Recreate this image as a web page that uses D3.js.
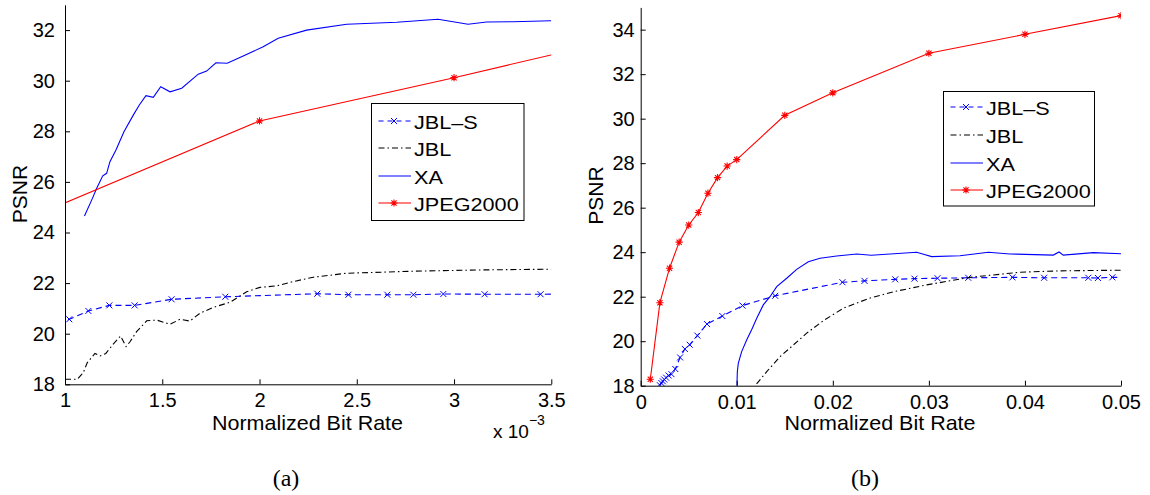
<!DOCTYPE html>
<html>
<head>
<meta charset="utf-8">
<script src="https://cdn.jsdelivr.net/npm/d3@7"></script>
<style>
  body { margin: 0; background: #fff; }
  svg { display: block; }
  text { font-family: "Liberation Sans", Arial, Helvetica, sans-serif; fill: #000; }
</style>
</head>
<body>
<svg id="fig" width="1150" height="495"></svg>
<script>
// ---- shared labels ----
const seriesNames = ["JBL–S", "JBL", "XA", "JPEG2000"];

// ---- panel (a): rate in units of 1e-3 ----
const aXTicks = [1, 1.5, 2, 2.5, 3, 3.5];
const aYTicks = [18, 20, 22, 24, 26, 28, 30, 32];

const aJblsRate = [0.97, 1.022, 1.12, 1.228, 1.358, 1.548, 1.824, 2.297, 2.457, 2.657, 2.791, 2.945, 3.157, 3.445, 3.6];
const aJblsPsnr = [20.37, 20.57, 20.90, 21.12, 21.12, 21.36, 21.46, 21.58, 21.54, 21.54, 21.54, 21.57, 21.56, 21.56, 21.57];

const aJblRate = [1.0, 1.063, 1.094, 1.114, 1.154, 1.18, 1.21, 1.248, 1.286, 1.314, 1.334, 1.368, 1.42, 1.471, 1.54, 1.591, 1.642, 1.694, 1.762, 1.848, 1.934, 2.002, 2.088, 2.173, 2.276, 2.448, 2.79, 3.133, 3.5];
const aJblPsnr = [18.2, 18.2, 18.46, 18.85, 19.22, 19.12, 19.22, 19.59, 19.91, 19.49, 19.68, 20.08, 20.51, 20.54, 20.37, 20.57, 20.50, 20.81, 21.04, 21.24, 21.66, 21.83, 21.89, 22.06, 22.23, 22.39, 22.47, 22.52, 22.55];

const aXaRate = [1.10, 1.137, 1.163, 1.194, 1.214, 1.231, 1.262, 1.303, 1.351, 1.382, 1.416, 1.454, 1.492, 1.54, 1.60, 1.685, 1.728, 1.776, 1.834, 1.916, 2.019, 2.096, 2.242, 2.448, 2.705, 2.918, 3.072, 3.167, 3.304, 3.50];
const aXaPsnr = [24.65, 25.28, 25.75, 26.24, 26.34, 26.80, 27.26, 27.98, 28.64, 29.04, 29.41, 29.34, 29.76, 29.56, 29.70, 30.26, 30.38, 30.71, 30.69, 30.98, 31.34, 31.68, 32.00, 32.23, 32.31, 32.43, 32.23, 32.32, 32.33, 32.37];

const aJpegRate = [0.5, 2, 3, 4];
const aJpegPsnr = [23.55, 28.41, 30.12, 31.92];

// ---- panel (b) ----
const bXTicks = [0, 0.01, 0.02, 0.03, 0.04, 0.05];
const bYTicks = [18, 20, 22, 24, 26, 28, 30, 32, 34];

const bJblsRate = [0.00200, 0.00215, 0.00230, 0.00245, 0.00265, 0.00290, 0.0032, 0.0036, 0.0041, 0.0046, 0.0051, 0.0059, 0.0069, 0.0085, 0.0106, 0.0140, 0.0210, 0.0233, 0.0265, 0.0285, 0.0309, 0.0341, 0.0387, 0.0420, 0.0466, 0.0476, 0.0491, 0.0510];
const bJblsPsnr = [18.02, 18.12, 18.20, 18.28, 18.36, 18.46, 18.52, 18.75, 19.27, 19.65, 19.84, 20.25, 20.77, 21.13, 21.60, 22.04, 22.65, 22.71, 22.78, 22.81, 22.83, 22.85, 22.87, 22.85, 22.85, 22.84, 22.87, 22.87];

const bJblRate = [0.0112, 0.01197, 0.01312, 0.0145, 0.01589, 0.01728, 0.01901, 0.02109, 0.0238, 0.0263, 0.02977, 0.03428, 0.03949, 0.04365, 0.05];
const bJblPsnr = [17.6, 18.03, 18.63, 19.3, 19.83, 20.36, 20.92, 21.48, 21.93, 22.22, 22.53, 22.87, 23.10, 23.16, 23.19];

const bXaRate = [0.00999, 0.01006, 0.01016, 0.01051, 0.01103, 0.01156, 0.01208, 0.01276, 0.01346, 0.01416, 0.0152, 0.01624, 0.01745, 0.01867, 0.0204, 0.0225, 0.0240, 0.02873, 0.03029, 0.03324, 0.03618, 0.03844, 0.04295, 0.04355, 0.04399, 0.04712, 0.05];
const bXaPsnr = [17.6, 18.63, 19.0, 19.53, 20.05, 20.53, 21.03, 21.63, 22.0, 22.45, 22.83, 23.23, 23.57, 23.73, 23.83, 23.92, 23.86, 24.0, 23.80, 23.84, 24.0, 23.92, 23.87, 24.01, 23.87, 23.98, 23.93];

const bJpegRate = [0.001, 0.002, 0.003, 0.004, 0.005, 0.006, 0.007, 0.008, 0.009, 0.010, 0.015, 0.02, 0.03, 0.04, 0.05];
const bJpegPsnr = [18.29, 21.73, 23.28, 24.45, 25.22, 25.78, 26.65, 27.35, 27.87, 28.16, 30.15, 31.16, 32.94, 33.79, 34.63];

// ---- series styling ----
const styles = {
  "JBL–S":   { color: "#0000ff", dash: "6,4",       legendDash: "5,4", marker: "x" },
  "JBL":     { color: "#000000", dash: "6,3,1.5,3", legendDash: "6,3,1.5,3", marker: null },
  "XA":      { color: "#0000ff", dash: null,        legendDash: null, marker: null },
  "JPEG2000":{ color: "#ff0000", dash: null,        legendDash: null, marker: "star" }
};

const svg = d3.select("#fig");

function drawMarker(g, type, x, y, color) {
  if (type === "x") {
    const r = 3;
    g.append("path")
      .attr("d", `M${x - r},${y - r}L${x + r},${y + r}M${x - r},${y + r}L${x + r},${y - r}`)
      .attr("stroke", color).attr("stroke-width", 1).attr("fill", "none");
  } else if (type === "star") {
    const r = 3.6, d = 2.6;
    g.append("path")
      .attr("d", `M${x - r},${y}L${x + r},${y}M${x},${y - r}L${x},${y + r}` +
                 `M${x - d},${y - d}L${x + d},${y + d}M${x - d},${y + d}L${x + d},${y - d}`)
      .attr("stroke", color).attr("stroke-width", 1.1).attr("fill", "none");
  }
}

function panel(cfg) {
  const x = d3.scaleLinear().domain(cfg.xDomain).range([cfg.x0, cfg.x1]);
  const y = d3.scaleLinear().domain(cfg.yDomain).range([cfg.yBot, cfg.yTop]);

  const clipId = "clip-" + cfg.id;
  svg.append("clipPath").attr("id", clipId)
    .append("rect")
    .attr("x", cfg.x0).attr("y", cfg.yTop)
    .attr("width", cfg.x1 - cfg.x0).attr("height", cfg.yBot - cfg.yTop);

  const plot = svg.append("g").attr("clip-path", `url(#${clipId})`);
  const line = d3.line().x(d => x(d[0])).y(d => y(d[1]));

  cfg.series.forEach(s => {
    const st = styles[s.name];
    const pts = s.rate.map((r, i) => [r, s.psnr[i]]);
    plot.append("path")
      .datum(pts)
      .attr("d", line)
      .attr("fill", "none")
      .attr("stroke", st.color)
      .attr("stroke-width", 1.1)
      .attr("stroke-dasharray", st.dash);
    if (st.marker) {
      const mg = plot.append("g");
      pts.forEach(p => drawMarker(mg, st.marker, x(p[0]), y(p[1]), st.color));
    }
  });

  // axes: ticks point inward, no box
  const ax = svg.append("g").attr("transform", `translate(${cfg.x0},0)`)
    .call(d3.axisLeft(y).tickValues(cfg.yTicks).tickSizeInner(-5).tickSizeOuter(0).tickPadding(cfg.yPad));
  ax.selectAll("text").attr("font-size", 20);
  ax.select(".domain").attr("stroke", "#000");

  const bx = svg.append("g").attr("transform", `translate(0,${cfg.yBot})`)
    .call(d3.axisBottom(x).tickValues(cfg.xTicks).tickSizeInner(-5).tickSizeOuter(0)
      .tickPadding(cfg.xPad).tickFormat(d3.format("")));
  bx.selectAll("text").attr("font-size", 20);
  bx.select(".domain").attr("stroke", "#000");
  [ax, bx].forEach(g => g.attr("font-family", null).attr("font-size", null));

  // axis titles
  svg.append("text")
    .attr("transform", `translate(${cfg.ylabX},${cfg.ylabY}) rotate(-90)`)
    .attr("text-anchor", "middle").attr("font-size", 21)
    .text("PSNR");
  svg.append("text")
    .attr("transform", `translate(${cfg.xlabX},${cfg.xlabY}) scale(1.075,1)`)
    .attr("text-anchor", "middle").attr("font-size", 20)
    .text("Normalized Bit Rate");

  // legend
  const L = cfg.legend;
  const lg = svg.append("g");
  lg.append("rect")
    .attr("x", L.x).attr("y", L.y).attr("width", L.w).attr("height", L.h)
    .attr("fill", "#fff").attr("stroke", "#000").attr("stroke-width", 1);
  seriesNames.forEach((name, i) => {
    const st = styles[name];
    const cy = Math.round(L.y + L.first + i * L.step);
    lg.append("line")
      .attr("x1", L.x + 7).attr("x2", L.x + 39.5)
      .attr("y1", cy).attr("y2", cy)
      .attr("stroke", st.color).attr("stroke-width", 1.1)
      .attr("stroke-dasharray", st.legendDash);
    if (st.marker) drawMarker(lg, st.marker, L.x + 22.5, cy, st.color);
    lg.append("text")
      .attr("transform", `translate(${L.x + 42.5},${cy + 7.5}) scale(1.14,1)`)
      .attr("font-size", 19)
      .text(name);
  });

  // sub-figure caption
  svg.append("text")
    .attr("x", cfg.capX).attr("y", 486)
    .attr("text-anchor", "middle")
    .style("font-family", '"Liberation Serif", "Times New Roman", serif')
    .attr("font-size", 24)
    .text(cfg.caption);

  return { x, y };
}

panel({
  id: "a",
  x0: 65, x1: 551.3, yTop: 4.8, yBot: 384.3,
  xDomain: [1, 3.5], yDomain: [18, 33],
  xTicks: aXTicks, yTicks: aYTicks,
  yPad: 10, xPad: 8.5,
  ylabX: 27, ylabY: 194,
  xlabX: 307.5, xlabY: 429.5,
  legend: { x: 371.5, y: 103.5, w: 152.5, h: 117, first: 17, step: 27.6 },
  capX: 286, caption: "(a)",
  series: [
    { name: "JBL–S", rate: aJblsRate, psnr: aJblsPsnr },
    { name: "JBL", rate: aJblRate, psnr: aJblPsnr },
    { name: "XA", rate: aXaRate, psnr: aXaPsnr },
    { name: "JPEG2000", rate: aJpegRate, psnr: aJpegPsnr }
  ]
});

// exponent note for panel (a)
const expo = svg.append("text").attr("x", 493).attr("y", 438).attr("font-size", 19);
expo.append("tspan").text("x 10");
expo.append("tspan").attr("dy", -13).attr("font-size", 14).text("−3");

panel({
  id: "b",
  x0: 640.7, x1: 1121, yTop: 7.4, yBot: 385.7,
  xDomain: [0, 0.05], yDomain: [18, 35],
  xTicks: bXTicks, yTicks: bYTicks,
  yPad: 6, xPad: 9,
  ylabX: 603, ylabY: 195.5,
  xlabX: 880, xlabY: 429.5,
  legend: { x: 943.5, y: 91.5, w: 151, h: 114.5, first: 15.5, step: 27.8 },
  capX: 865, caption: "(b)",
  series: [
    { name: "JBL–S", rate: bJblsRate, psnr: bJblsPsnr },
    { name: "JBL", rate: bJblRate, psnr: bJblPsnr },
    { name: "XA", rate: bXaRate, psnr: bXaPsnr },
    { name: "JPEG2000", rate: bJpegRate, psnr: bJpegPsnr }
  ]
});
</script>
</body>
</html>
